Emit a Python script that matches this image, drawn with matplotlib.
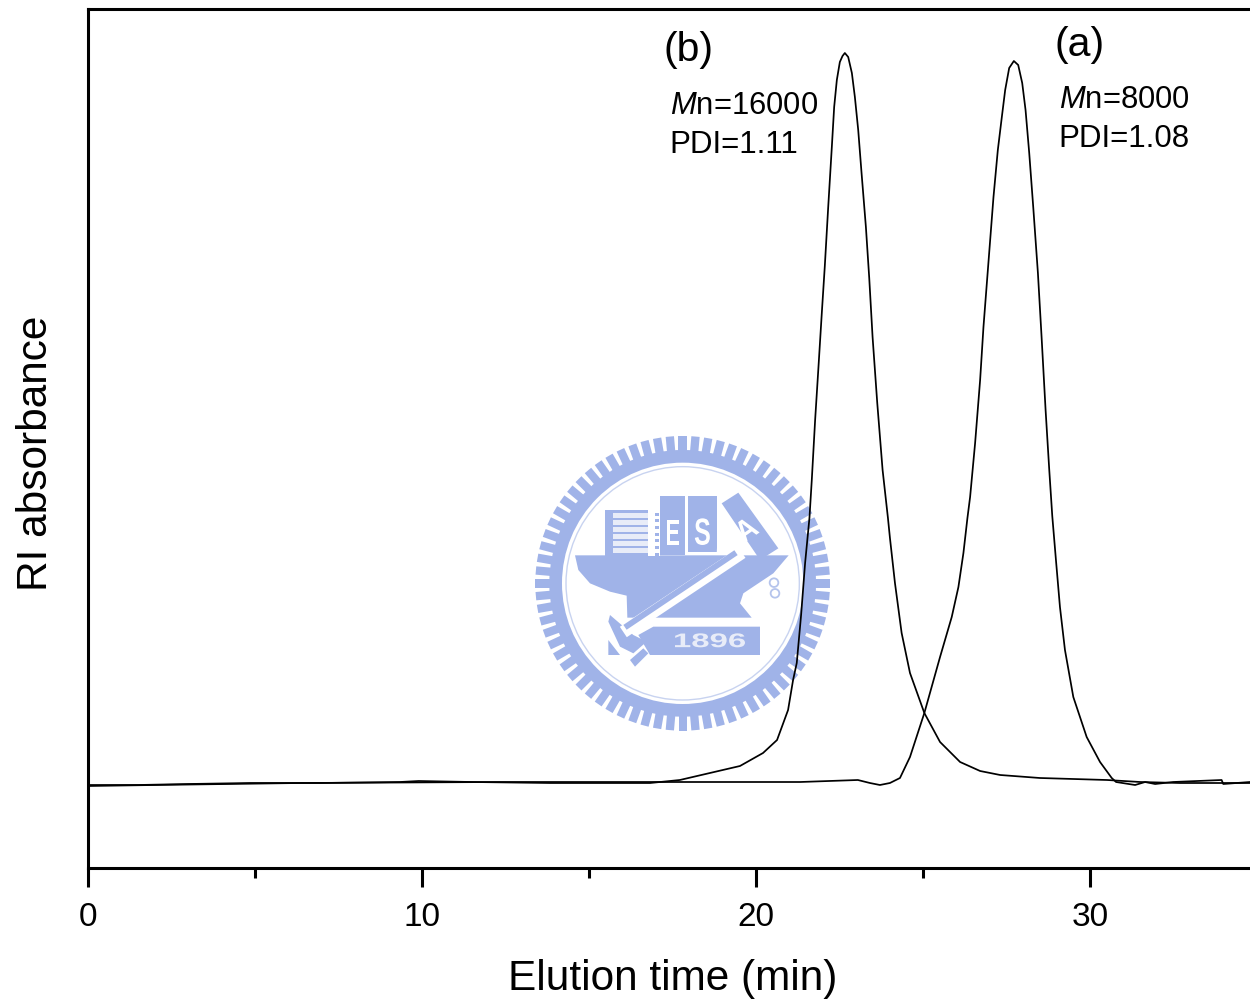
import numpy as np
import matplotlib
matplotlib.use("Agg")
import matplotlib.pyplot as plt
from matplotlib.patches import Polygon, Rectangle, Circle, PathPatch
from matplotlib.textpath import TextPath
from matplotlib.font_manager import FontProperties
from matplotlib.transforms import Affine2D

plt.rcParams['font.family'] = ['Liberation Sans', 'DejaVu Sans']
plt.rcParams['mathtext.fontset'] = 'custom'
plt.rcParams['mathtext.rm'] = 'Liberation Sans'
plt.rcParams['mathtext.it'] = 'Liberation Sans:italic'

# Curve (b), Mn=16000
time_b = [0, 1.5, 3, 4.85, 7, 9.34, 9.9, 11.5, 13.83, 16.83, 17.72, 18.62, 19.52, 20.21, 20.63, 20.96,
          21.11, 21.22, 21.35, 21.47, 21.60, 21.67, 21.77, 21.87, 21.97, 22.06, 22.16, 22.27, 22.34,
          22.42, 22.51, 22.59, 22.66, 22.76, 22.87, 22.96, 23.06, 23.16, 23.29, 23.39, 23.49, 23.63,
          23.79, 23.95, 24.01, 24.16, 24.36, 24.61, 25.04, 25.51, 26.11, 26.71, 27.31, 28.50, 30.51,
          31.5, 32.69, 34.79]
signal_b = [83, 83, 84, 85, 85, 86, 87, 86, 85, 85, 88, 95, 102, 115, 128, 158,
            188, 205, 253, 305, 350, 388, 448, 501, 555, 602, 660, 721, 761,
            788, 806, 812, 815, 811, 795, 771, 738, 695, 641, 590, 531, 465,
            398, 350, 330, 285, 235, 195, 155, 126, 106, 97, 93, 90, 88,
            86, 85, 85]

# Curve (a), Mn=8000
time_a = [0, 2, 6.35, 12.34, 18.32, 21.32, 23.05, 23.41, 23.71, 24.01, 24.31, 24.61, 25.04, 25.51, 25.86,
          26.06, 26.21, 26.33, 26.41, 26.56, 26.71, 26.81, 26.96, 27.11, 27.24, 27.36, 27.46, 27.58, 27.72,
          27.85, 27.97, 28.07, 28.18, 28.30, 28.44, 28.55, 28.67, 28.78, 28.87, 28.98, 29.10, 29.25,
          29.50, 29.90, 30.30, 30.65, 30.78, 31.35, 31.65, 31.95, 32.49, 33.94, 33.99, 34.79]
signal_a = [82, 83, 85, 86, 86, 86, 88, 85, 83, 85, 90, 111, 155, 211, 251,
            281, 315, 350, 371, 425, 488, 541, 606, 671, 718, 751, 778, 800, 807,
            803, 785, 758, 715, 661, 595, 531, 458, 398, 352, 308, 261, 218,
            171, 131, 106, 90, 86, 83, 86, 84, 86, 88, 84, 86]

x_major = [0, 10, 20, 30]
x_minor = [5, 15, 25]
xlim = (0, 34.79)
ylim = (0, 859)

fig = plt.figure(figsize=(12.5, 10.07), dpi=100)
W, H = 1250, 1007

# NCTU watermark, laid out on its own axes in crop coordinates
lg = fig.add_axes([530 / W, (H - 740) / H, 310 / W, 310 / H], zorder=0)
lg.set_xlim(0, 930)
lg.set_ylim(930, 0)
lg.axis('off')
blue = '#a0b3e8'
pale = '#e8ecf8'
bold = FontProperties(family='Liberation Sans', weight='bold')


def shape_text(s, cx_, cy_, w, h, angle=0, color='white'):
    tp = TextPath((0, 0), s, size=10, prop=bold)
    bb = tp.get_extents()
    tr = (Affine2D().translate(-bb.x0 - bb.width / 2, -bb.y0 - bb.height / 2)
          .scale(w / bb.width, -h / bb.height).rotate_deg(angle).translate(cx_, cy_))
    lg.add_patch(PathPatch(tp, transform=tr + lg.transData, fc=color, ec='none', zorder=5))


cx, cy = 458, 460
teeth = 72
for ang in np.linspace(0, 2 * np.pi, teeth, endpoint=False):
    d = np.array([np.cos(ang), np.sin(ang)])
    n = np.array([-d[1], d[0]])
    r0, r1, hw = 390, 442, 12.5
    pts = [(cx, cy) + d * r0 + n * hw, (cx, cy) + d * r1 + n * hw,
           (cx, cy) + d * r1 - n * hw, (cx, cy) + d * r0 - n * hw]
    lg.add_patch(Polygon(pts, fc=blue, ec='none'))
lg.add_patch(Circle((cx, cy), 400, fc=blue, ec='none'))
lg.add_patch(Circle((cx, cy), 362, fc='white', ec='none'))
lg.add_patch(Circle((cx, cy), 350, fc='none', ec='#c8d3f0', lw=1.0))

lg.add_patch(Polygon([(135, 376), (776, 376), (730, 430), (640, 490), (630, 520),
                      (665, 563), (292, 563), (290, 497), (240, 485), (180, 460), (145, 420)],
                     fc=blue, ec='none'))
lg.add_patch(Rectangle((225, 240), 130, 138, fc=blue, ec='none'))
for yy in range(250, 375, 21):
    lg.add_patch(Rectangle((248, yy), 105, 13, fc=pale, ec='none'))
lg.add_patch(Rectangle((355, 240), 35, 138, fc='white', ec='none'))
for yy in range(248, 372, 20):
    lg.add_patch(Rectangle((376, yy), 10, 9, fc=blue, ec='none'))
lg.add_patch(Rectangle((390, 198), 75, 178, fc=blue, ec='none'))
lg.add_patch(Rectangle((475, 198), 85, 167, fc=blue, ec='none'))
lg.add_patch(Polygon([(565, 280), (610, 350), (560, 372)], fc='white', ec='none'))
lg.add_patch(Polygon([(575, 220), (625, 188), (745, 355), (690, 390)], fc=blue, ec='none'))
shape_text('E', 429, 307, 38, 75)
shape_text('S', 517, 305, 45, 80)
shape_text('A', 648, 298, 56, 62, angle=-35)
lg.plot([636, 280], [368, 606], color='white', lw=9.0, solid_capstyle='butt')
lg.plot([618, 285], [368, 592], color=blue, lw=4.2, solid_capstyle='butt')
lg.add_patch(Polygon([(240, 555), (310, 615), (350, 635), (310, 670), (270, 650), (235, 575)],
                     fc=blue, ec='none'))
lg.add_patch(Polygon([(235, 630), (270, 675), (235, 675)], fc=blue, ec='none'))
lg.add_patch(Polygon([(300, 690), (340, 655), (355, 670), (315, 710)], fc=blue, ec='none'))
lg.add_patch(Polygon([(370, 590), (690, 590), (690, 675), (360, 675), (325, 615)], fc=blue, ec='none'))
shape_text('1896', 540, 631, 210, 42, color=pale)
lg.add_patch(Circle((732, 458), 13, fc='none', ec='#b5c4ec', lw=1.3))
lg.add_patch(Circle((735, 490), 13, fc='none', ec='#b5c4ec', lw=1.3))

# Main chromatogram
ax = fig.add_axes([88 / W, (H - 868) / H, (W - 88) / W, 859 / H], zorder=1)
ax.patch.set_alpha(0)
ax.plot(time_b, signal_b, color='black', lw=1.25, solid_joinstyle='round')
ax.plot(time_a, signal_a, color='black', lw=1.25, solid_joinstyle='round')
ax.set_xlim(*xlim)
ax.set_ylim(*ylim)
ax.spines['right'].set_visible(False)
for s in ['left', 'top', 'bottom']:
    ax.spines[s].set_linewidth(2.2)
ax.set_xticks(x_major)
ax.set_xticks(x_minor, minor=True)
ax.set_yticks([])
ax.tick_params(axis='x', which='major', length=13.5, width=2.2, labelsize=24, pad=11)
ax.tick_params(axis='x', which='minor', length=7, width=2.2)
fig.text(673 / W, 1 - 979 / H, 'Elution time (min)', fontsize=30.5, ha='center', va='center')
fig.text(36 / W, 1 - 453 / H, 'RI absorbance', fontsize=30.5, rotation=90, ha='center', va='center')


def lab(px, py, s, size):
    ax.text((px - 88) / 33.4, 868 - py, s, fontsize=size, ha='left', va='baseline')


lab(663, 61, '(b)', 29.5)
lab(1054, 56, '(a)', 29.5)
lab(670, 114, r'$\mathit{M}$n=16000', 22.3)
lab(669.5, 153, 'PDI=1.11', 22.5)
lab(1059, 108, r'$\mathit{M}$n=8000', 22.3)
lab(1058.5, 147, 'PDI=1.08', 22.5)

fig.savefig('out.png', dpi=100)
